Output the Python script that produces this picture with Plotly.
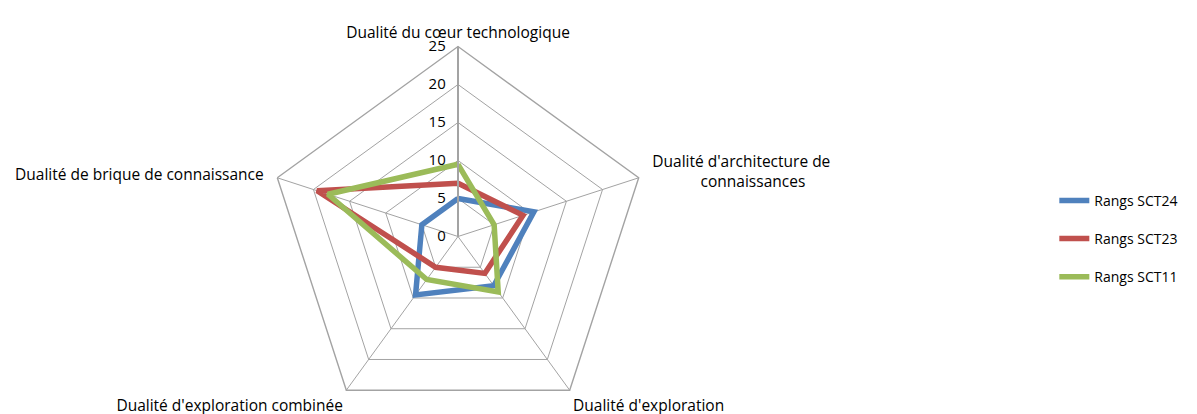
import plotly.graph_objects as go

NB = "\u00a0"
categories = ["Dualité du cœur technologique",
              NB * 2 + "Dualité d'architecture de<br>" + NB * 14 + "connaissances",
              "Dualité d'exploration",
              "Dualité d'exploration combinée",
              "Dualité de brique de connaissance" + NB * 2]

sct24 = [5, 10.5, 8, 9.5, 5]
sct23 = [7, 9, 6, 5, 19.5]
sct11 = [9.5, 5, 9, 7, 18]

series = [("Rangs SCT24", sct24, "#4F81BD"),
          ("Rangs SCT23", sct23, "#C0504D"),
          ("Rangs SCT11", sct11, "#9BBB59")]

# page body has an 8px margin; figure is sized so the radar centre lands at (458, 237)
W, H, TOP = 1189, 420, 37.4
cx, rad = 450, 190

fig = go.Figure()
for i, (name, vals, col) in enumerate(series):
    fig.add_trace(go.Scatterpolar(r=vals + vals[:1], theta=categories + categories[:1],
                                  mode="lines", name=name, legendgroup=str(i),
                                  line=dict(color=col, width=5.5)))

grid = "#A3A3A3"
clear = "rgba(0,0,0,0)"
fig.update_layout(
    width=W, height=H,
    paper_bgcolor="white",
    font=dict(family="Open Sans", size=14, color="black"),
    margin=dict(l=0, r=0, t=TOP, b=0),
    polar=dict(
        domain=dict(x=[(cx - rad) / W, (cx + rad) / W], y=[0, 1]),
        gridshape="linear",
        bgcolor="white",
        angularaxis=dict(direction="clockwise", rotation=90, type="category",
                         showline=True, linecolor=grid, linewidth=1.4,
                         gridcolor=grid, gridwidth=1.4,
                         ticks="outside", ticklen=2, tickcolor=clear,
                         tickfont=dict(size=15.5)),
        radialaxis=dict(range=[0, 25], tickvals=[0, 5, 10, 15, 20, 25], angle=90,
                        showline=True, linecolor=grid, linewidth=2,
                        gridcolor=grid, gridwidth=1.4,
                        ticks="outside", ticklen=6, tickcolor=clear,
                        tickfont=dict(size=15), tickangle=90, side="counterclockwise"),
    ),
    legend=dict(x=0.88, y=0.494, yanchor="middle", xanchor="left",
                tracegroupgap=17, font=dict(size=14)),
)

fig.write_html("out.html")
